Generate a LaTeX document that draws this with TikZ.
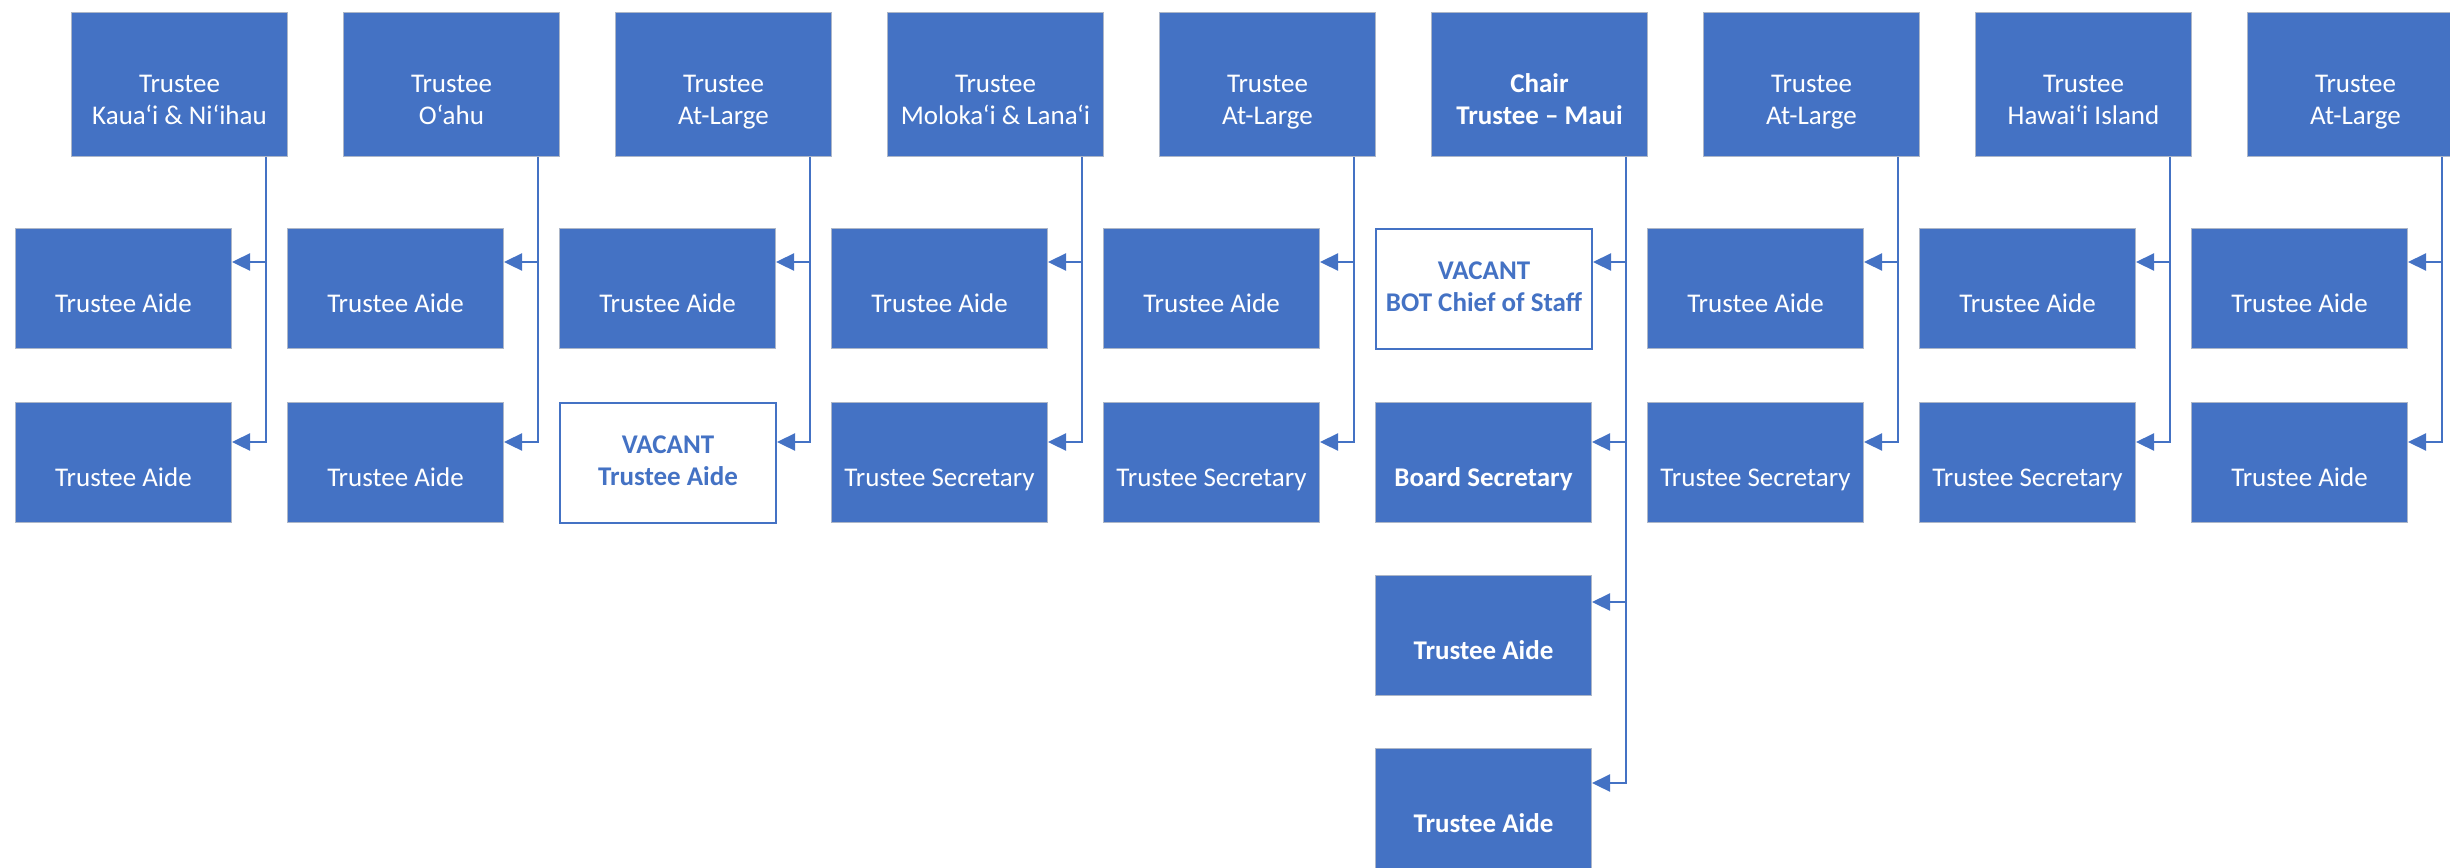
\documentclass[tikz,border=0pt]{standalone}
\usepackage{fontspec}
\setmainfont{Carlito}
\usetikzlibrary{arrows.meta}
\definecolor{obl}{RGB}{68,114,196}
\definecolor{obd}{RGB}{172,182,200}
\begin{document}
\begin{tikzpicture}[x=0.5pt,y=-0.5pt,
  box/.style={anchor=north west,fill=obl,draw=obd,line width=0.5pt,minimum width=108pt,inner sep=0pt},
  topbox/.style={box,minimum height=72pt},
  aidebox/.style={box,minimum height=60pt},
  vacbox/.style={aidebox,fill=white,draw=obl,line width=1pt},
  lbl/.style={text=white,align=center,inner sep=0pt,font=\fontsize{13.5}{16}\selectfont},
  blbl/.style={text=white,align=center,inner sep=0pt,font=\fontsize{13.5}{16}\selectfont\bfseries},
  vlbl/.style={text=obl,align=center,inner sep=0pt,font=\fontsize{13.5}{16}\selectfont\bfseries},
  link/.style={draw=obl,line width=1.2pt,-{Triangle[length=9pt,width=8.5pt]}}
]
\useasboundingbox (0,0) rectangle (2450,867);

% ---- top row ----
\node[topbox] (t0) at (71,12) {};
\node[topbox] (t1) at (343,12) {};
\node[topbox] (t2) at (615,12) {};
\node[topbox] (t3) at (887,12) {};
\node[topbox] (t4) at (1159,12) {};
\node[topbox] (t5) at (1431,12) {};
\node[topbox] (t6) at (1703,12) {};
\node[topbox] (t7) at (1975,12) {};
\node[topbox] (t8) at (2247,12) {};
\node[lbl] (t0l) at ([yshift=-8.8pt]t0.center) {\strut Trustee\\\strut Kaua‘i \& Ni‘ihau};
\node[lbl] (t1l) at ([yshift=-8.8pt]t1.center) {\strut Trustee\\\strut O‘ahu};
\node[lbl] (t2l) at ([yshift=-8.8pt]t2.center) {\strut Trustee\\\strut At-Large};
\node[lbl] (t3l) at ([yshift=-8.8pt]t3.center) {\strut Trustee\\\strut Moloka‘i \& Lana‘i};
\node[lbl] (t4l) at ([yshift=-8.8pt]t4.center) {\strut Trustee\\\strut At-Large};
\node[blbl] (t5l) at ([yshift=-8.8pt]t5.center) {\strut Chair\\\strut Trustee – Maui};
\node[lbl] (t6l) at ([yshift=-8.8pt]t6.center) {\strut Trustee\\\strut At-Large};
\node[lbl] (t7l) at ([yshift=-8.8pt]t7.center) {\strut Trustee\\\strut Hawai‘i Island};
\node[lbl] (t8l) at ([yshift=-8.8pt]t8.center) {\strut Trustee\\\strut At-Large};

% ---- first row of staff ----
\node[aidebox] (a0) at (15,228) {};
\node[aidebox] (a1) at (287,228) {};
\node[aidebox] (a2) at (559,228) {};
\node[aidebox] (a3) at (831,228) {};
\node[aidebox] (a4) at (1103,228) {};
\node[vacbox]  (a5) at (1375,228) {};
\node[aidebox] (a6) at (1647,228) {};
\node[aidebox] (a7) at (1919,228) {};
\node[aidebox] (a8) at (2191,228) {};
\node[lbl] (a0l) at ([yshift=-9pt]a0.center) {\strut Trustee Aide};
\node[lbl] (a1l) at ([yshift=-9pt]a1.center) {\strut Trustee Aide};
\node[lbl] (a2l) at ([yshift=-9pt]a2.center) {\strut Trustee Aide};
\node[lbl] (a3l) at ([yshift=-9pt]a3.center) {\strut Trustee Aide};
\node[lbl] (a4l) at ([yshift=-9pt]a4.center) {\strut Trustee Aide};
\node[vlbl] (a5l) at (a5.center) {\strut VACANT\\\strut BOT Chief of Staff};
\node[lbl] (a6l) at ([yshift=-9pt]a6.center) {\strut Trustee Aide};
\node[lbl] (a7l) at ([yshift=-9pt]a7.center) {\strut Trustee Aide};
\node[lbl] (a8l) at ([yshift=-9pt]a8.center) {\strut Trustee Aide};

% ---- second row of staff ----
\node[aidebox] (b0) at (15,402) {};
\node[aidebox] (b1) at (287,402) {};
\node[vacbox]  (b2) at (559,402) {};
\node[aidebox] (b3) at (831,402) {};
\node[aidebox] (b4) at (1103,402) {};
\node[aidebox] (b5) at (1375,402) {};
\node[aidebox] (b6) at (1647,402) {};
\node[aidebox] (b7) at (1919,402) {};
\node[aidebox] (b8) at (2191,402) {};
\node[lbl] (b0l) at ([yshift=-9pt]b0.center) {\strut Trustee Aide};
\node[lbl] (b1l) at ([yshift=-9pt]b1.center) {\strut Trustee Aide};
\node[vlbl] (b2l) at (b2.center) {\strut VACANT\\\strut Trustee Aide};
\node[lbl] (b3l) at ([yshift=-9pt]b3.center) {\strut Trustee Secretary};
\node[lbl] (b4l) at ([yshift=-9pt]b4.center) {\strut Trustee Secretary};
\node[blbl] (b5l) at ([yshift=-9pt]b5.center) {\strut Board Secretary};
\node[lbl] (b6l) at ([yshift=-9pt]b6.center) {\strut Trustee Secretary};
\node[lbl] (b7l) at ([yshift=-9pt]b7.center) {\strut Trustee Secretary};
\node[lbl] (b8l) at ([yshift=-9pt]b8.center) {\strut Trustee Aide};

% ---- chair's extra staff ----
\node[aidebox] (c5) at (1375,575) {};
\node[aidebox] (d5) at (1375,748) {};
\node[blbl] (c5l) at ([yshift=-9pt]c5.center) {\strut Trustee Aide};
\node[blbl] (d5l) at ([yshift=-9pt]d5.center) {\strut Trustee Aide};

% ---- connectors ----
\foreach \i in {0,...,8}{
  \draw[link] ([xshift=-11pt]t\i.south east) |- ([yshift=-17pt]a\i.north east);
  \draw[link] ([xshift=-11pt]t\i.south east) |- ([yshift=-20pt]b\i.north east);
}
\draw[link] ([xshift=-11pt]t5.south east) |- ([yshift=-13.5pt]c5.north east);
\draw[link] ([xshift=-11pt]t5.south east) |- ([yshift=-17.5pt]d5.north east);
\end{tikzpicture}
\end{document}
